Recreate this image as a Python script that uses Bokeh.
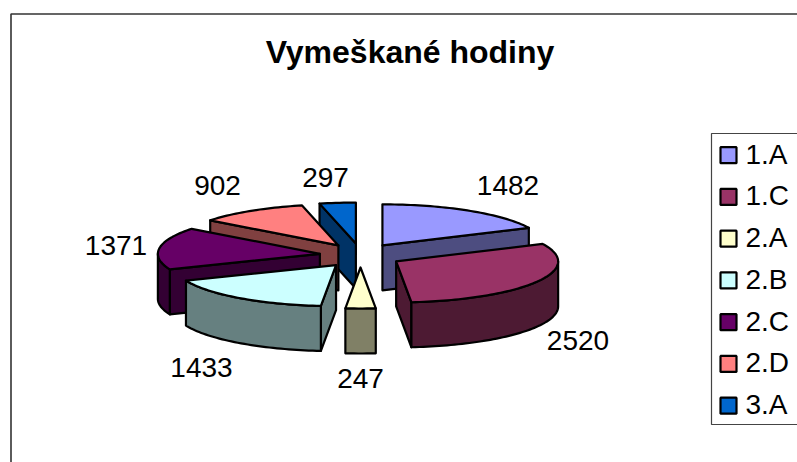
import math
from bokeh.plotting import figure
from bokeh.core.properties import value
from bokeh.embed import file_html
from bokeh.resources import INLINE

title = "Vymeškané hodiny"
categories = ["1.A", "1.C", "2.A", "2.B", "2.C", "2.D", "3.A"]
hours = [1482, 2520, 247, 1433, 1371, 902, 297]
top_colors = ["#9999FF", "#993366", "#FFFFCC", "#CCFFFF", "#660066", "#FF8080", "#0066CC"]
side_colors = ["#4D4D80", "#4D1A33", "#808066", "#668080", "#330033", "#804040", "#003366"]

# label centres, page pixels
label_x = [507.5, 577.5, 360, 201, 115.5, 217, 325]
label_y = [185, 340, 378, 367, 245, 185, 177]

# projected pie geometry, page pixels
CX, CY, RX, RY, DEPTH = 360.0, 255.0, 162.0, 41.0, 45.0
EX, EY = 41.0, 12.0
FONT = "Liberation Sans"

W, H = 797, 462
p = figure(width=W, height=H, x_range=(0, W), y_range=(H, 0),
           output_backend="svg", toolbar_location=None, min_border=0)
p.axis.visible = False
p.grid.visible = False
p.outline_line_color = None
p.background_fill_color = "white"
p.border_fill_color = "white"

total = sum(hours)
slices = []
acc = 0.0
for v, tc, sc in zip(hours, top_colors, side_colors):
    a0 = acc / total * 2 * math.pi
    acc += v
    a1 = acc / total * 2 * math.pi
    mid = (a0 + a1) / 2
    ax, ay = CX + EX * math.sin(mid), CY - EY * math.cos(mid)
    slices.append(dict(a0=a0, a1=a1, mid=mid, ax=ax, ay=ay, tc=tc, sc=sc))

slices.sort(key=lambda s: -math.cos(s["mid"]))


def pt(s, t):
    return s["ax"] + RX * math.sin(t), s["ay"] - RY * math.cos(t)


def extrude(pts):
    xs = [q[0] for q in pts] + [q[0] for q in reversed(pts)]
    ys = [q[1] for q in pts] + [q[1] + DEPTH for q in reversed(pts)]
    return xs, ys


XS, YS, FC = [], [], []
for s in slices:
    a0, a1 = s["a0"], s["a1"]
    apex = (s["ax"], s["ay"])
    if math.sin(a0) < -1e-9:
        x, y = extrude([apex, pt(s, a0)])
        XS.append(x); YS.append(y); FC.append(s["sc"])
    if math.sin(a1) > 1e-9:
        x, y = extrude([pt(s, a1), apex])
        XS.append(x); YS.append(y); FC.append(s["sc"])
    lo, hi = max(a0, math.pi / 2), min(a1, 3 * math.pi / 2)
    if hi > lo:
        n = max(2, int((hi - lo) * 40))
        x, y = extrude([pt(s, lo + (hi - lo) * i / n) for i in range(n + 1)])
        XS.append(x); YS.append(y); FC.append(s["sc"])
    n = max(2, int((a1 - a0) * 40))
    arc = [pt(s, a0 + (a1 - a0) * i / n) for i in range(n + 1)]
    XS.append([apex[0]] + [q[0] for q in arc])
    YS.append([apex[1]] + [q[1] for q in arc])
    FC.append(s["tc"])

p.patches(XS, YS, fill_color=FC, line_color="black", line_width=2.2, line_join="round")

p.line([10.5, 10.5, W], [H, 13.5, 13.5], line_color="#333333", line_width=1.6)

p.text([409.5], [51.5], text=[title], text_font=value(FONT), text_font_style="bold",
       text_font_size=value("32px"), text_align="center", text_baseline="middle", text_color="black")
p.text(label_x, label_y, text=[str(v) for v in hours], text_font=value(FONT),
       text_font_size=value("28px"), text_align="center", text_baseline="middle", text_color="black")

LX0, LY0, LY1 = 711.0, 133.0, 424.0
p.line([W, LX0, LX0, W], [LY0, LY0, LY1, LY1], line_color="#444444", line_width=1.2)
ROW0, ROW = 154.7, 41.75
rows = [ROW0 + i * ROW for i in range(len(categories))]
p.quad(left=[720] * 7, right=[736] * 7, top=[r - 8 for r in rows], bottom=[r + 8 for r in rows],
       fill_color=top_colors, line_color="black", line_width=2.2)
p.text([745] * 7, [r - 1 for r in rows], text=categories, text_font=value(FONT), text_font_size=value("28px"),
       text_align="left", text_baseline="middle", text_color="black")

open("out.html", "w").write(file_html(p, INLINE))
